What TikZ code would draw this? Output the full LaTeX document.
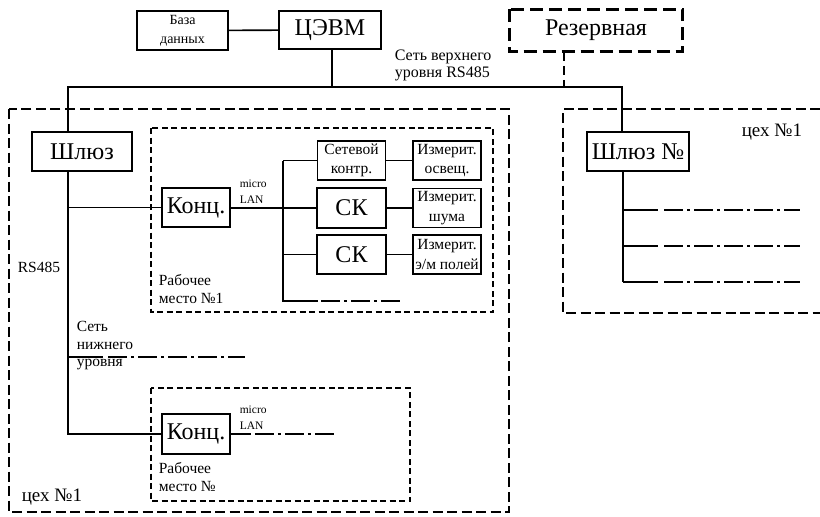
\documentclass[tikz,border=0pt]{standalone}
\usepackage{fontspec}
\setmainfont{Liberation Serif}

\begin{document}
\begin{tikzpicture}[x = 1pt, y = -1pt, line width = 1.6pt,
    every node/.style = {inner sep = 0pt, align = center},
    box/.style = {draw, font = \fontsize{24}{26}\selectfont},
    smallbox/.style = {draw, minimum width = 68pt, minimum height = 39pt,
        font = \fontsize{15.5}{19.5}\selectfont},
    label/.style = {anchor = west, align = left, font = \fontsize{15.5}{17.5}\selectfont},
    tiny/.style = {anchor = west, align = left, font = \fontsize{11.5}{16.5}\selectfont},
    shop/.style = {line width = 2.2pt, dash pattern = on 10pt off 4.5pt},
    place/.style = {line width = 1.8pt, dash pattern = on 6pt off 3.5pt},
    tail/.style = {line width = 2.8pt, dash pattern = on 19pt off 4pt on 3pt off 4pt}]
    \useasboundingbox (0,0) rectangle (820,517);

    % upper level
    \node[box, minimum width = 91pt, minimum height = 39pt,
        font = \fontsize{14}{19}\selectfont] (bd) at (182.5,30.5) {База\\данных};
    \node[box, minimum width = 102pt, minimum height = 38pt] (cevm) at (330,30) {ЦЭВМ};
    \node[box, minimum width = 172pt, minimum height = 41pt, draw = none] (rez) at (596,30.5) {Резервная};
    \draw[line width = 2.8pt, dash pattern = on 13pt off 6pt] (rez.north west) rectangle (rez.south east);
    \node[label, font = \fontsize{16}{17.5}\selectfont] (top) at (394,65.5) {Сеть верхнего\\уровня RS485};
    \coordinate (busL) at (68,87);
    \coordinate (busR) at (622,87);
    \coordinate (busC) at (332,87);
    \coordinate (rezd) at (564,87);
    \draw (bd) -- (cevm);
    \draw (cevm.south -| busC) -- (busC);
    \draw[line width = 2.8pt, dash pattern = on 9pt off 5pt] (rez.south -| rezd) -- (rezd);

    % shop 1
    \draw[shop] (9,109) rectangle (509,512);
    \node[box, minimum width = 100pt, minimum height = 39pt] (gw1) at (82,151.5) {Шлюз};
    \node[box, minimum width = 102pt, minimum height = 39pt] (gw2) at (638,151.5) {Шлюз №};
    \draw (gw1.north -| busL) -- (busL) -- (busR) -- (gw2.north -| busR);
    \node[label] (rs) at (17,267) {RS485};
    \node[label, font = \fontsize{19}{20}\selectfont] (shopL) at (21,497) {цех №1};

    % workplace 1
    \draw[place] (151,128) rectangle (493,312);
    \node[box, minimum width = 68pt, minimum height = 39pt] (konc1) at (196,207.5) {Конц.};
    \node[tiny] (lan1) at (239,191.5) {micro\\LAN};
    \node[smallbox] (net) at (351.5,160.5) {Сетевой\\контр.};
    \node[box, minimum width = 69pt, minimum height = 40pt] (sk1) at (351.5,208) {СК};
    \node[box, minimum width = 69pt, minimum height = 39pt] (sk2) at (351.5,254.5) {СК};
    \node[smallbox] (iz1) at (447,160.5) {Измерит.\\освещ.};
    \node[smallbox] (iz2) at (447,208) {Измерит.\\шума};
    \node[smallbox] (iz3) at (447,254.5) {Измерит.\\э/м полей};
    \node[label] (wp1) at (158,289) {Рабочее\\место №1};
    \coordinate (lanbus) at (283,208);
    \coordinate (lanend) at (283,301);
    \draw (konc1.east |- lanbus) -- (lanbus);
    \draw (net.west -| lanbus) -- (lanend) -- ++(35,0);
    \draw[tail, line width = 2pt] (lanend) ++(38,0) -- (402,301);
    \foreach \n in {net, sk1, sk2} \draw (\n.west -| lanbus) -- (\n.west);
    \draw (net) -- (iz1);
    \draw (sk1) -- (iz2);
    \draw (sk2) -- (iz3);

    % workplace n
    \draw[place] (151,388) rectangle (410,501);
    \node[box, minimum width = 68pt, minimum height = 40pt] (konc2) at (196,434) {Конц.};
    \node[tiny] (lan2) at (239,417.5) {micro\\LAN};
    \node[label] (wpn) at (158,477) {Рабочее\\место №};
    \draw (konc2.east) -- ++(20,0);
    \draw[tail] (konc2.east) ++(24,0) -- (335,434);

    % lower level network
    \draw (gw1.south -| busL) |- (konc2.west);
    \draw (konc1.west) -- (konc1.west -| busL);
    \node[label] (low) at (76,346) {Сеть\\нижнего\\уровня};
    \draw (68,357) -- (103,357);
    \draw[tail] (108,357) -- (245,357);

    % shop n
    \draw[shop] (820,109) -- (563,109) -- (563,313) -- (820,313);
    \node[label, font = \fontsize{19}{20}\selectfont] (shopR) at (741,132) {цех №1};
    \coordinate (gwbus) at (623,282);
    \draw (gw2.south -| gwbus) -- (gwbus);
    \foreach \y in {210, 246, 282} {
        \draw (623,\y) -- (658,\y);
        \draw[tail] (664,\y) -- (800,\y);
    }
\end{tikzpicture}
\end{document}
